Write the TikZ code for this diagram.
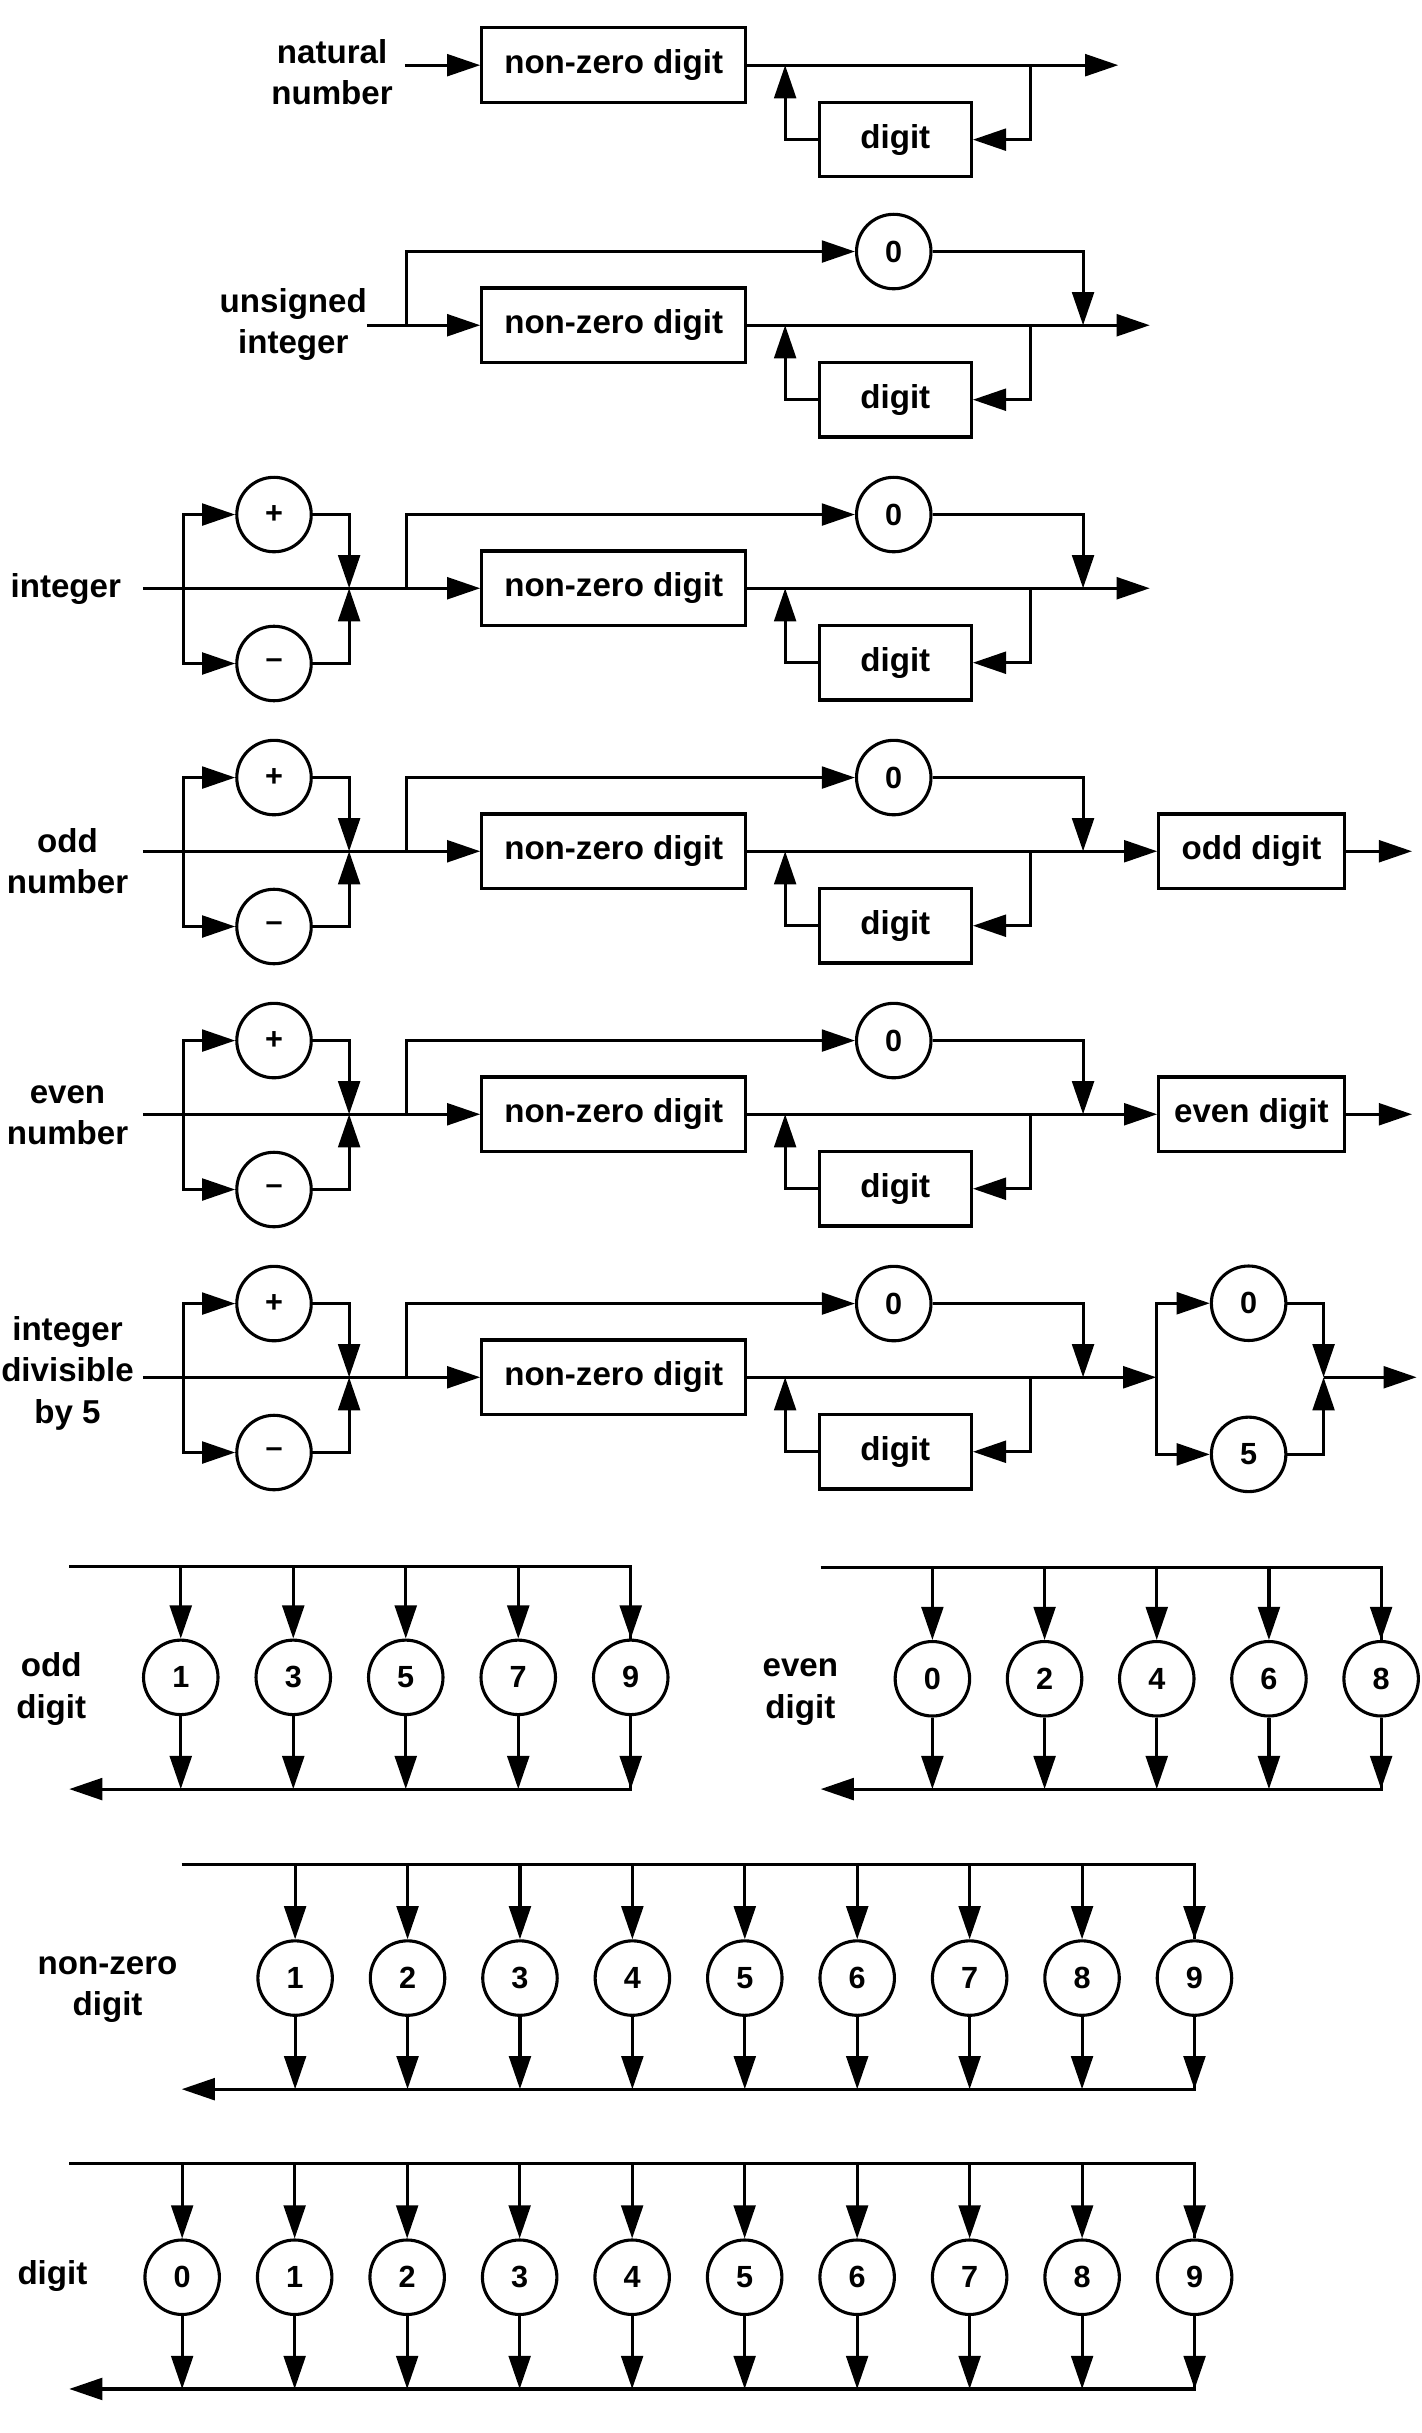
\documentclass[tikz,border=0pt]{standalone}
\usepackage{fontspec}
\setmainfont{Liberation Sans}
\usetikzlibrary{arrows.meta,positioning}
\tikzset{
  nterm/.style = {draw, line width=1.5pt, minimum height=36pt, inner sep=0pt, font=\bfseries\fontsize{16}{20}\selectfont},
  term/.style = {circle, draw, line width=1.5pt, minimum size=36pt, inner sep=0pt, font=\bfseries\fontsize{14.8}{17}\selectfont},
  rulename/.style = {align=center, inner sep=0pt, font=\bfseries\fontsize{16}{20}\selectfont},
  rail/.style = {line width=1.5pt},
  flow/.style = {rail, -{Triangle[length=16pt,width=10.5pt]}},
}
\begin{document}
\begin{tikzpicture}[x=0.75pt, y=-0.75pt]
\useasboundingbox (0,0) rectangle (916,1568);

% natural number
\begin{scope}[shift={(0,42)}]
  \node[rulename] (lbl1) at (214,4.7) {natural\\number};
  \coordinate (in1) at (261,0);
  \node[nterm, minimum width=127.5pt] (nz1) at (395.5,0) {non-zero digit};
  \node[nterm, minimum width=73.5pt] (dg1) at (577,48) {digit};
  \coordinate (lp1) at (664,0);
  \coordinate (lq1) at (506,0);
  \coordinate (out1) at (720.7,0);
  \draw[flow] (in1) -- (nz1);
  \draw[flow] (nz1) -- (out1);
  \draw[flow] (lp1) |- (dg1);
  \draw[flow] (dg1) -| (lq1);
\end{scope}

% common part: optional 0, non-zero digit, digit loop
\foreach \r/\m in {2/209.6, 3/379.1, 4/548.6, 5/718.1, 6/887.6} {
  \begin{scope}[shift={(0,\m)}]
    \node[nterm, minimum width=127.5pt] (nz\r) at (395.5,0) {non-zero digit};
    \node[nterm, minimum width=73.5pt] (dg\r) at (577,48) {digit};
    \node[term] (z\r) at (576,-47.5) {0};
    \coordinate (zs\r) at (262,0);
    \coordinate (zm\r) at (698,0);
    \coordinate (lp\r) at (664,0);
    \coordinate (lq\r) at (506,0);
    \draw[flow] (zs\r) |- (z\r);
    \draw[flow] (z\r) -| (zm\r);
    \draw[flow] (lp\r) |- (dg\r);
    \draw[flow] (dg\r) -| (lq\r);
  \end{scope}
}

% optional sign
\foreach \r/\m in {3/379.1, 4/548.6, 5/718.1, 6/887.6} {
  \begin{scope}[shift={(0,\m)}]
    \coordinate (in\r) at (92,0);
    \coordinate (ss\r) at (118,0);
    \coordinate (sm\r) at (225,0);
    \node[term] (p\r) at (176.6,-47.5) {+};
    \node[term] (m\r) at (176.6,48.5) {\textendash};
    \draw[flow] (in\r) -- (nz\r);
    \draw[flow] (ss\r) |- (p\r);
    \draw[flow] (ss\r) |- (m\r);
    \draw[flow] (p\r) -| (sm\r);
    \draw[flow] (m\r) -| (sm\r);
  \end{scope}
}

% unsigned integer
\begin{scope}[shift={(0,209.6)}]
  \node[rulename] (lbl2) at (189,-0.3) {unsigned\\integer};
  \coordinate (in2) at (236.5,0);
  \coordinate (out2) at (741,0);
  \draw[flow] (in2) -- (nz2);
  \draw[flow] (nz2) -- (out2);
\end{scope}

% integer
\begin{scope}[shift={(0,379.1)}]
  \node[rulename] (lbl3) at (42.4,0.7) {integer};
  \coordinate (out3) at (741,0);
  \draw[flow] (nz3) -- (out3);
\end{scope}

% odd number
\begin{scope}[shift={(0,548.6)}]
  \node[rulename] (lbl4) at (43.5,6.5) {odd\\number};
  \node[nterm, minimum width=89.6pt] (odd4) at (806.5,0) {odd digit};
  \coordinate (out4) at (910,0);
  \draw[flow] (nz4) -- (odd4);
  \draw[flow] (odd4) -- (out4);
\end{scope}

% even number
\begin{scope}[shift={(0,718.1)}]
  \node[rulename] (lbl5) at (43.5,0.6) {even\\number};
  \node[nterm, minimum width=89.6pt] (even5) at (806.5,0) {even digit};
  \coordinate (out5) at (910,0);
  \draw[flow] (nz5) -- (even5);
  \draw[flow] (even5) -- (out5);
\end{scope}

% integer divisible by 5
\begin{scope}[shift={(0,887.6)}]
  \node[rulename] (lbl6) at (43.5,-2.6) {integer\\divisible\\by 5};
  \coordinate (fs) at (745.2,0);
  \coordinate (fm) at (853,0);
  \coordinate (out6) at (913,0);
  \node[term] (f0) at (804.7,-47.7) {0};
  \node[term] (f5) at (804.7,49.7) {5};
  \draw[flow] (nz6) -- (fs);
  \draw[flow] (fs) |- (f0);
  \draw[flow] (fs) |- (f5);
  \draw[flow] (f0) -| (fm);
  \draw[flow] (f5) -| (fm);
  \draw[flow] (fm) -- (out6);
\end{scope}

% odd digit
\node[rulename] (lbl7) at (33,1088.4) {odd\\digit};
\coordinate (odin) at (44.6,1009.8);
\coordinate (odout) at (44.6,1153);
\foreach \d [count=\i] in {1,3,5,7,9} {
  \node[term] (od\d) at ({116.5+72.5*(\i-1)},1081) {\d};
  \draw[flow] (od\d.north |- odin) -- (od\d);
  \draw[flow] (od\d) -- (od\d.south |- odout);
}
\draw[rail] (odin) -| (od9.north);
\draw[flow] (od9) |- (odout);

% even digit
\node[rulename] (lbl8) at (515.8,1090.5) {even\\digit};
\coordinate (evin) at (528.9,1010.3);
\coordinate (evout) at (528.9,1153);
\foreach \d [count=\i] in {0,2,4,6,8} {
  \node[term] (ev\d) at ({600.9+72.3*(\i-1)},1081.9) {\d};
  \draw[flow] (ev\d.north |- evin) -- (ev\d);
  \draw[flow] (ev\d) -- (ev\d.south |- evout);
}
\draw[rail] (evin) -| (ev8.north);
\draw[flow] (ev8) |- (evout);

% non-zero digit
\node[rulename] (lbl9) at (69.3,1282.3) {non-zero\\digit};
\coordinate (nzin) at (117.1,1201.6);
\coordinate (nzout) at (117.1,1346.4);
\foreach \d in {1,...,9} {
  \node[term] (nd\d) at ({190.2+72.45*(\d-1)},1274.8) {\d};
  \draw[flow] (nd\d.north |- nzin) -- (nd\d);
  \draw[flow] (nd\d) -- (nd\d.south |- nzout);
}
\draw[rail] (nzin) -| (nd9.north);
\draw[flow] (nd9) |- (nzout);

% digit
\node[rulename] (lbl10) at (33.8,1467.1) {digit};
\coordinate (dgin) at (44.6,1394.5);
\coordinate (dgout) at (44.6,1539.6);
\foreach \d in {0,...,9} {
  \node[term] (dd\d) at ({117.4+72.5*\d},1467.6) {\d};
  \draw[flow] (dd\d.north |- dgin) -- (dd\d);
  \draw[flow] (dd\d) -- (dd\d.south |- dgout);
}
\draw[rail] (dgin) -| (dd9.north);
\draw[flow] (dd9) |- (dgout);

\end{tikzpicture}
\end{document}
